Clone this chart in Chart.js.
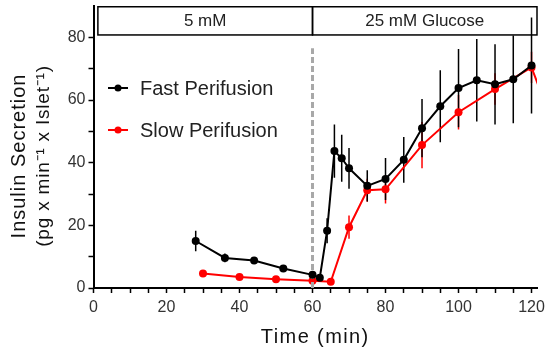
<!DOCTYPE html>
<html>
<head>
<meta charset="utf-8">
<script src="https://cdn.jsdelivr.net/npm/chart.js@4/dist/chart.umd.min.js"></script>
<style>
  html, body { margin: 0; padding: 0; background: #fff; }
  #wrap { width: 550px; height: 352px; }
</style>
</head>
<body>
<div id="wrap"><canvas id="insulinChart" width="550" height="352"></canvas></div>
<script>
// Fast perifusion (black)
const fastTime = [28, 36, 44, 52, 60, 62, 64, 66, 68, 70, 75, 80, 85, 90, 95, 100, 105, 110, 115, 120];
const fastVal  = [15, 9.6, 8.8, 6.2, 4.2, 3.3, 18.3, 43.7, 41.4, 38.2, 32.6, 34.8, 40.9, 51, 58, 63.8, 66.3, 65, 66.6, 71];
const fastErr  = [3.3, 1.4, 1, 0.8, 0.8, 0.8, 4, 8.5, 7.5, 6.5, 5, 6.7, 7.3, 9.3, 11.5, 12.5, 13.2, 12.8, 14, 15.3];

// Slow perifusion (red)
const slowTime = [30, 40, 50, 60, 65, 70, 75, 80, 90, 100, 110, 120, 125];
const slowVal  = [4.6, 3.5, 2.8, 2.3, 2.0, 19.4, 31.2, 31.5, 45.6, 56.1, 63.5, 70.4, 55];
const slowErr  = [0.8, 0.6, 0.5, 0.5, 0.5, 3.7, 3.7, 4.5, 7.4, 5.5, 5, 5, 0];

// glucose switch marker and condition bar
const switchTime = 60;
const switchTop = 76.5;
const conditionLabels = ['5 mM', '25 mM Glucose'];
const conditionStart = [1.2, 60];
const conditionEnd = [60, 121.5];
const conditionLow = 81;
const conditionHigh = 90;

// axis ticks
const xTicks = [0, 5, 10, 15, 20, 25, 30, 35, 40, 45, 50, 55, 60, 65, 70, 75, 80, 85, 90, 95, 100, 105, 110, 115, 120];
const xLabels = [0, 20, 40, 60, 80, 100, 120];
const yTicks = [0, 10, 20, 30, 40, 50, 60, 70, 80];
const yLabels = [0, 20, 40, 60, 80];

const FONT = "'Liberation Sans', Arial, sans-serif";

const toPoints = (xs, ys) => xs.map((x, i) => ({ x: x, y: ys[i] }));

// error bars drawn through the chart scales
const errorBars = {
    id: 'errorBars',
    beforeDatasetsDraw(chart) {
        const ctx = chart.ctx;
        const xs = chart.scales.x, ys = chart.scales.y;
        const sets = [
            { t: slowTime, v: slowVal, e: slowErr, color: '#ff0000' },
            { t: fastTime, v: fastVal, e: fastErr, color: '#000000' }
        ];
        ctx.save();
        ctx.beginPath();
        ctx.rect(chart.chartArea.left, chart.chartArea.top, chart.chartArea.width, chart.chartArea.height);
        ctx.clip();
        ctx.lineWidth = 1.5;
        sets.forEach(s => {
            ctx.strokeStyle = s.color;
            s.t.forEach((t, i) => {
                if (!s.e[i]) return;
                const px = xs.getPixelForValue(t);
                ctx.beginPath();
                ctx.moveTo(px, ys.getPixelForValue(s.v[i] - s.e[i]));
                ctx.lineTo(px, ys.getPixelForValue(s.v[i] + s.e[i]));
                ctx.stroke();
            });
        });
        ctx.restore();
    }
};

// condition box, legend and axis titles
const decorations = {
    id: 'decorations',
    afterDraw(chart) {
        const ctx = chart.ctx;
        const xs = chart.scales.x, ys = chart.scales.y;
        ctx.save();

        // condition bar
        const top = ys.getPixelForValue(conditionHigh);
        const bottom = ys.getPixelForValue(conditionLow);
        ctx.strokeStyle = '#000';
        ctx.lineWidth = 1.5;
        ctx.fillStyle = '#222';
        ctx.font = '17px ' + FONT;
        ctx.textAlign = 'center';
        ctx.textBaseline = 'middle';
        conditionLabels.forEach((lab, i) => {
            const l = xs.getPixelForValue(conditionStart[i]);
            const r = xs.getPixelForValue(conditionEnd[i]);
            ctx.strokeRect(l, top + 0.75, r - l, bottom - top);
            ctx.fillText(lab, (l + r) / 2, (top + bottom) / 2 + 1);
        });

        // legend
        const legendY = [88, 130];
        chart.data.datasets.slice(0, 2).forEach((ds, i) => {
            const y = legendY[i];
            ctx.strokeStyle = ds.borderColor;
            ctx.lineWidth = 2;
            ctx.beginPath();
            ctx.moveTo(108, y);
            ctx.lineTo(128, y);
            ctx.stroke();
            ctx.fillStyle = ds.borderColor;
            ctx.beginPath();
            ctx.arc(118, y, 3.5, 0, Math.PI * 2);
            ctx.fill();
            ctx.fillStyle = '#222';
            ctx.font = '20px ' + FONT;
            ctx.textAlign = 'left';
            ctx.fillText(ds.label, 140, y + 1);
        });

        // x title
        ctx.fillStyle = '#111';
        ctx.font = '20px ' + FONT;
        ctx.letterSpacing = '1.4px';
        ctx.textAlign = 'center';
        ctx.fillText('Time (min)', (chart.chartArea.left + chart.chartArea.right) / 2, 337);

        // y title
        ctx.translate(0, 156);
        ctx.rotate(-Math.PI / 2);
        ctx.font = '20px ' + FONT;
        ctx.letterSpacing = '1px';
        ctx.fillText('Insulin Secretion', 0, 19);
        ctx.font = '19px ' + FONT;
        ctx.letterSpacing = '0.8px';
        ctx.fillText('(pg x min\u207B\u00B9 x Islet\u207B\u00B9)', 0, 44);
        ctx.restore();
    }
};

const ctx = document.getElementById('insulinChart').getContext('2d');
new Chart(ctx, {
    type: 'line',
    data: {
        datasets: [
            {
                label: 'Fast Perifusion',
                data: toPoints(fastTime, fastVal),
                borderColor: '#000000',
                backgroundColor: '#000000',
                borderWidth: 2,
                pointRadius: 4,
                pointBorderWidth: 0,
                tension: 0,
                order: 0
            },
            {
                label: 'Slow Perifusion',
                data: toPoints(slowTime, slowVal),
                borderColor: '#ff0000',
                backgroundColor: '#ff0000',
                borderWidth: 2,
                pointRadius: 4,
                pointBorderWidth: 0,
                tension: 0,
                order: 2
            },
            {
                label: 'switch',
                data: [{ x: switchTime, y: 0 }, { x: switchTime, y: switchTop }],
                borderColor: '#a8a8a8',
                borderWidth: 3,
                borderDash: [6, 3],
                pointRadius: 0,
                order: 1
            }
        ]
    },
    options: {
        responsive: false,
        animation: false,
        layout: { padding: { top: 6, right: 13, left: 0, bottom: 0 } },
        plugins: {
            legend: { display: false },
            tooltip: { enabled: false }
        },
        scales: {
            x: {
                type: 'linear',
                min: 0,
                max: 121.5,
                afterBuildTicks: s => { s.ticks = xTicks.map(v => ({ value: v })); },
                afterFit: s => { s.height = 64; s.paddingLeft = 0; s.paddingRight = 0; },
                border: { color: '#000', width: 2 },
                grid: { drawOnChartArea: false, drawTicks: true, tickLength: 5, tickColor: '#000', tickWidth: 1.5 },
                ticks: {
                    autoSkip: false,
                    maxRotation: 0,
                    padding: 5,
                    color: '#333',
                    font: { family: FONT, size: 16 },
                    callback: v => xLabels.includes(v) ? v : ''
                }
            },
            y: {
                min: 0,
                max: 90,
                afterBuildTicks: s => { s.ticks = yTicks.map(v => ({ value: v })); },
                afterFit: s => { s.width = 93.5; s.paddingTop = 0; s.paddingBottom = 0; },
                border: { color: '#000', width: 2 },
                grid: { drawOnChartArea: false, drawTicks: true, tickLength: 5, tickColor: '#000', tickWidth: 1.5 },
                ticks: {
                    padding: 3,
                    color: '#333',
                    font: { family: FONT, size: 16 },
                    callback: v => yLabels.includes(v) ? v : ''
                }
            }
        }
    },
    plugins: [errorBars, decorations]
});
</script>
</body>
</html>
